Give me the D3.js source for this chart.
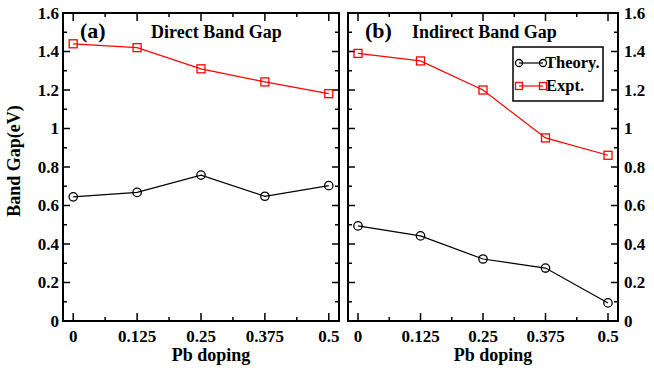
<!DOCTYPE html>
<html>
<head>
<meta charset="utf-8">
<script src="https://cdn.jsdelivr.net/npm/d3@7"></script>
<style>
  body { margin: 0; background: #fff; }
  svg text { font-family: "Liberation Serif", "Times New Roman", serif; font-weight: bold; fill: #000; }
</style>
</head>
<body>
<svg id="chart" width="654" height="370"></svg>
<script>
// Pb doping levels (x) and band gap values (eV)
const doping = [0, 0.125, 0.25, 0.375, 0.5];
const xTickLabels = ['0', '0.125', '0.25', '0.375', '0.5'];
const yTicks = [0, 0.2, 0.4, 0.6, 0.8, 1, 1.2, 1.4, 1.6];

const directTheory = [0.645, 0.668, 0.758, 0.648, 0.703];
const directExpt = [1.44, 1.42, 1.31, 1.242, 1.181];
const indirectTheory = [0.494, 0.442, 0.322, 0.275, 0.094];
const indirectExpt = [1.39, 1.351, 1.20, 0.951, 0.861];

const svg = d3.select('#chart');
svg.append('rect').attr('width', 654).attr('height', 370).attr('fill', '#fff');

const yTop = 13, yBottom = 321;
const ys = d3.scaleLinear().domain([0, 1.6]).range([yBottom, yTop]);

function drawPanel(x0, x1, tag, title, titleX, theory, expt, labelsRight, legend) {
    const xs = d3.scaleLinear().domain([-0.02, 0.52]).range([x0, x1]);
    const g = svg.append('g');

    // minor + major ticks, all pointing inward
    const xMinor = d3.range(0, 0.51, 0.0625);
    const yMinor = d3.range(0, 1.61, 0.1);
    xMinor.forEach((v, i) => {
        const len = i % 2 === 0 ? 8 : 4;
        g.append('line').attr('x1', xs(v)).attr('x2', xs(v)).attr('y1', yBottom).attr('y2', yBottom - len)
            .attr('stroke', '#000').attr('stroke-width', 1.5);
        g.append('line').attr('x1', xs(v)).attr('x2', xs(v)).attr('y1', yTop).attr('y2', yTop + len)
            .attr('stroke', '#000').attr('stroke-width', 1.5);
    });
    yMinor.forEach((v, i) => {
        const len = i % 2 === 0 ? 7 : 4;
        g.append('line').attr('x1', x0).attr('x2', x0 + len).attr('y1', ys(v)).attr('y2', ys(v))
            .attr('stroke', '#000').attr('stroke-width', 1.5);
        g.append('line').attr('x1', x1).attr('x2', x1 - len).attr('y1', ys(v)).attr('y2', ys(v))
            .attr('stroke', '#000').attr('stroke-width', 1.5);
    });

    g.append('rect').attr('x', x0).attr('y', yTop).attr('width', x1 - x0).attr('height', yBottom - yTop)
        .attr('fill', 'none').attr('stroke', '#000').attr('stroke-width', 2);

    // tick labels
    g.selectAll('.xl').data(doping).enter().append('text')
        .attr('x', d => xs(d)).attr('y', 342)
        .attr('text-anchor', 'middle').style('font-size', '17px')
        .text((d, i) => xTickLabels[i]);

    g.selectAll('.yl').data(yTicks).enter().append('text')
        .attr('x', labelsRight ? x1 + 6 : x0 - 4)
        .attr('y', d => ys(d) + 5.5)
        .attr('text-anchor', labelsRight ? 'start' : 'end').style('font-size', '17px')
        .text(d => d3.format('~g')(d));

    g.append('text').attr('x', (x0 + x1) / 2 + 10).attr('y', 361)
        .attr('text-anchor', 'middle').style('font-size', '18px').text('Pb doping');

    g.append('text').attr('x', x0 + 17).attr('y', 38).style('font-size', '22px').text(tag);
    g.append('text').attr('x', titleX).attr('y', 38).style('font-size', '18px').text(title);

    const line = d3.line().x((d, i) => xs(doping[i])).y(d => ys(d));

    g.append('path').datum(theory).attr('d', line).attr('fill', 'none').attr('stroke', '#000').attr('stroke-width', 1.2);
    g.selectAll('.tc').data(theory).enter().append('circle')
        .attr('cx', (d, i) => xs(doping[i])).attr('cy', d => ys(d)).attr('r', 4.2)
        .attr('fill', 'none').attr('stroke', '#000').attr('stroke-width', 1.3);

    g.append('path').datum(expt).attr('d', line).attr('fill', 'none').attr('stroke', '#ff0000').attr('stroke-width', 1.2);
    g.selectAll('.es').data(expt).enter().append('rect')
        .attr('x', (d, i) => xs(doping[i]) - 4).attr('y', d => ys(d) - 4)
        .attr('width', 8).attr('height', 8)
        .attr('fill', 'none').attr('stroke', '#ff0000').attr('stroke-width', 1.3);

    if (legend) {
        const lg = g.append('g');
        lg.append('rect').attr('x', 513).attr('y', 47).attr('width', 90).attr('height', 54)
            .attr('fill', '#fff').attr('stroke', '#000').attr('stroke-width', 1.5);
        lg.append('line').attr('x1', 519).attr('x2', 543).attr('y1', 63).attr('y2', 63).attr('stroke', '#000').attr('stroke-width', 1.2);
        [519, 543].forEach(cx => lg.append('circle').attr('cx', cx).attr('cy', 63).attr('r', 3.5)
            .attr('fill', 'none').attr('stroke', '#000').attr('stroke-width', 1.3));
        lg.append('text').attr('x', 545).attr('y', 68).style('font-size', '16.5px').text('Theory.');
        lg.append('line').attr('x1', 519).attr('x2', 543).attr('y1', 86).attr('y2', 86).attr('stroke', '#ff0000').attr('stroke-width', 1.2);
        [519, 543].forEach(cx => lg.append('rect').attr('x', cx - 3.5).attr('y', 82.5).attr('width', 7).attr('height', 7)
            .attr('fill', 'none').attr('stroke', '#ff0000').attr('stroke-width', 1.3));
        lg.append('text').attr('x', 546).attr('y', 91).style('font-size', '16.5px').text('Expt.');
    }
}

drawPanel(63, 339, '(a)', 'Direct Band Gap', 151, directTheory, directExpt, false, false);
drawPanel(348, 618, '(b)', 'Indirect Band Gap', 412, indirectTheory, indirectExpt, true, true);

svg.append('text').attr('transform', 'translate(20,161) rotate(-90)')
    .attr('text-anchor', 'middle').style('font-size', '18px').text('Band Gap(eV)');
</script>
</body>
</html>
